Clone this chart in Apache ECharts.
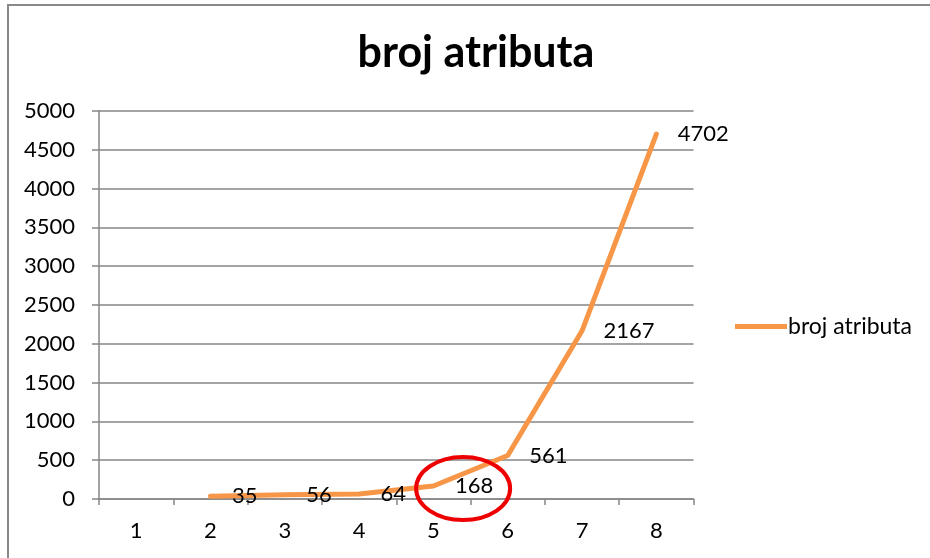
<!DOCTYPE html>
<html>
<head>
<meta charset="utf-8">
<script src="https://cdn.jsdelivr.net/npm/echarts@6/dist/echarts.min.js"></script>
<style>html,body{margin:0;padding:0;background:#fff;}#c{width:930px;height:558px;}</style>
</head>
<body>
<div id="c"></div>
<script>
var titleText = 'broj atributa';
var seriesName = 'broj atributa';
var categories = ['1', '2', '3', '4', '5', '6', '7', '8'];
var values = [null, 35, 56, 64, 168, 561, 2167, 4702];
var yTicks = { min: 0, max: 5000, interval: 500 };

var FONT = 'Lato, "Open Sans", sans-serif';
var chart = echarts.init(document.getElementById('c'));
var option = {
  backgroundColor: '#fff',
  animation: false,
  title: {
    text: titleText,
    left: 471, top: 27, textAlign: 'center',
    textStyle: { fontFamily: FONT, fontSize: 43, fontWeight: 'bold', color: '#000' }
  },
  legend: {
    data: [seriesName],
    left: 730, top: 310,
    icon: 'rect', itemWidth: 52, itemHeight: 5, itemGap: 4,
    itemStyle: { color: '#F79646', opacity: 1 },
    textStyle: { fontFamily: FONT, fontSize: 23, color: '#000', padding: [0, 0, 0, -4] }
  },
  grid: { left: 99, right: 236.5, top: 111, bottom: 59 },
  xAxis: {
    type: 'category', data: categories, boundaryGap: true,
    axisLine: { show: true, lineStyle: { color: '#868686', width: 1.5 } },
    axisTick: { show: true, length: 6, lineStyle: { color: '#868686', width: 1.5 } },
    axisLabel: { fontFamily: FONT, fontSize: 22, color: '#000', margin: 21 },
    splitLine: { show: false }
  },
  yAxis: {
    type: 'value', min: yTicks.min, max: yTicks.max, interval: yTicks.interval,
    axisLine: { show: true, lineStyle: { color: '#868686', width: 1.5 } },
    axisTick: { show: true, length: 7, lineStyle: { color: '#868686', width: 1.5 } },
    axisLabel: { fontFamily: FONT, fontSize: 22, color: '#000', margin: 24,
      formatter: function (v) { return String(v); } },
    splitLine: { show: true, lineStyle: { color: '#868686', width: 1.5 } }
  },
  series: [{
    name: seriesName, type: 'line', data: values,
    connectNulls: false,
    symbol: 'circle', symbolSize: 1, showSymbol: true,
    itemStyle: { color: 'rgba(0,0,0,0)' },
    lineStyle: { color: '#F79646', width: 5, cap: 'round', join: 'round' },
    label: {
      show: true, position: 'right', distance: 21,
      fontFamily: FONT, fontSize: 22, color: '#000'
    },
    emphasis: { disabled: true }
  }]
};
chart.setOption(option);

// annotation ellipse placed via axis scales (between categories 5 and 6)
var p5 = chart.convertToPixel({ seriesIndex: 0 }, [4, 135]);
var p6 = chart.convertToPixel({ seriesIndex: 0 }, [5, 135]);
var cx = p5[0] + (p6[0] - p5[0]) * 0.4;
var cy = p5[1];
chart.setOption({
  graphic: [
    { type: 'rect', shape: { x: 8, y: 5, width: 1000, height: 1000 },
      style: { fill: 'none', stroke: '#888', lineWidth: 2 }, silent: true },
    { type: 'ellipse', shape: { cx: cx, cy: cy, rx: 47, ry: 31.5 },
      style: { fill: 'none', stroke: '#ee0000', lineWidth: 4 }, silent: true, z: 100 }
  ]
});
</script>
</body>
</html>
